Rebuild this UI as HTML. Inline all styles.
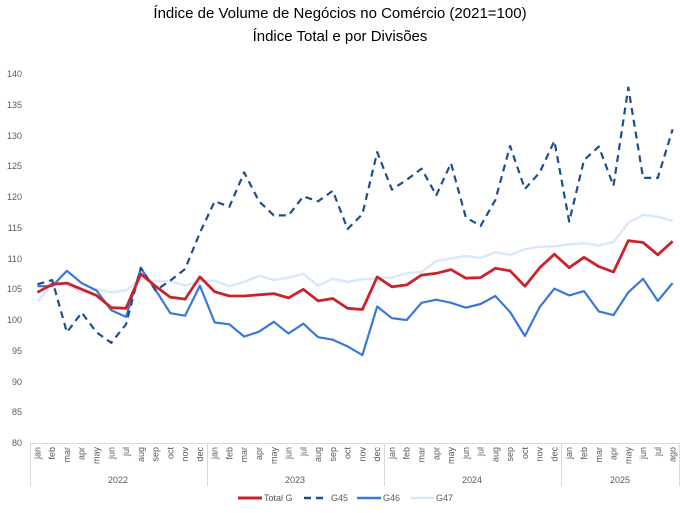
<!DOCTYPE html>
<html><head><meta charset="utf-8"><style>
body{margin:0;background:#fff;width:680px;height:508px;overflow:hidden;font-family:"Liberation Sans",sans-serif}
</style></head><body>
<svg id="s" width="680" height="508" xmlns="http://www.w3.org/2000/svg" font-family="Liberation Sans, sans-serif">
<text x="340" y="18" text-anchor="middle" font-size="15" fill="#000">Índice de Volume de Negócios no Comércio (2021=100)</text>
<text x="340" y="41" text-anchor="middle" font-size="15" fill="#000">Índice Total e por Divisões</text>
<g font-size="9" fill="#595959" text-anchor="end">
<text x="22" y="77">140</text><text x="22" y="108">135</text><text x="22" y="139">130</text><text x="22" y="169">125</text><text x="22" y="200">120</text><text x="22" y="231">115</text><text x="22" y="262">110</text><text x="22" y="292">105</text><text x="22" y="323">100</text><text x="22" y="354">95</text><text x="22" y="385">90</text><text x="22" y="415">85</text><text x="22" y="446">80</text>
</g>
<g stroke="#d9d9d9" stroke-width="1">
<line x1="30" y1="443.5" x2="680" y2="443.5"/>
<line x1="30.5" y1="443" x2="30.5" y2="486"/><line x1="207.5" y1="443" x2="207.5" y2="486"/><line x1="384.5" y1="443" x2="384.5" y2="486"/><line x1="561.5" y1="443" x2="561.5" y2="486"/><line x1="679.5" y1="443" x2="679.5" y2="486"/>
</g>
<g id="months" font-size="9" fill="#595959"></g>
<g font-size="9" fill="#595959" text-anchor="middle">
<text x="118" y="483">2022</text><text x="295" y="483">2023</text><text x="472" y="483">2024</text><text x="620" y="483">2025</text>
</g>
<g id="lines"></g>
<g font-size="9" fill="#595959">
<line x1="238" y1="498" x2="262" y2="498" stroke="#c9242b" stroke-width="3"/><text x="264" y="501">Total G</text>
<line x1="304" y1="498" x2="328" y2="498" stroke="#1f4e8c" stroke-width="2.5" stroke-dasharray="7,5"/><text x="331" y="501">G45</text>
<line x1="357" y1="498" x2="381" y2="498" stroke="#3a78d8" stroke-width="2.5"/><text x="383" y="501">G46</text>
<line x1="410" y1="498" x2="434" y2="498" stroke="#dbe8f8" stroke-width="2.5"/><text x="436" y="501">G47</text>
</g>
</svg>
<script>
var m=["jan","feb","mar","apr","may","jun","jul","aug","sep","oct","nov","dec"];
var labs=[];for(var y=0;y<3;y++)labs=labs.concat(m);labs=labs.concat(["jan","feb","mar","apr","may","jun","jul","ago"]);
var W=650/44;function X(i){return 30+W*(i+0.5)}function Y(v){return 443-(v-80)*6.15}
var g=document.getElementById("months"),ns="http://www.w3.org/2000/svg";
labs.forEach(function(l,i){var t=document.createElementNS(ns,"text");var x=X(i)+3;t.setAttribute("transform","translate("+x+",447) rotate(-90)");t.setAttribute("text-anchor","end");t.textContent=l;g.appendChild(t)});
var d={
g47:[103,105.8,105.8,104.4,105,104.5,104.8,106.8,106.3,106.3,105.6,106.3,106.4,105.5,106.2,107.2,106.5,106.9,107.5,105.6,106.7,106.2,106.6,106.8,106.9,107.6,107.8,109.6,110,110.4,110.1,111,110.6,111.5,111.9,112,112.3,112.5,112.1,112.7,115.8,117.1,116.8,116.1],
g46:[105.5,105.5,108,106,104.8,101.6,100.5,108.4,104.9,101.1,100.7,105.6,99.6,99.3,97.3,98.1,99.7,97.8,99.4,97.2,96.8,95.7,94.3,102.2,100.3,100,102.8,103.3,102.8,102,102.6,103.9,101.3,97.4,102.1,105.1,104,104.7,101.4,100.8,104.5,106.7,103.1,106],
g45:[105.8,106.5,98,101.2,98,96.3,99.3,108.5,104.8,106.4,108.3,114.2,119.3,118.4,124,119.3,117,117,120.1,119.3,121,114.8,117.2,127.3,121.2,122.8,124.6,120.3,125.5,116.7,115.3,119.5,128.3,121.3,124,129.1,116,126,128.2,121.8,137.8,123.1,123.1,131],
tot:[104.5,105.8,106,105,104,102,101.9,107.5,105.5,103.7,103.4,107,104.6,103.9,103.9,104.1,104.3,103.6,105,103.1,103.5,101.9,101.7,107,105.4,105.7,107.3,107.6,108.2,106.8,106.9,108.4,108,105.5,108.5,110.7,108.5,110.2,108.7,107.8,112.9,112.6,110.6,112.8]};
var st={g47:["#dbe8f8",2.5,""],g46:["#3a78d8",2.2,""],g45:["#1f4e8c",2.2,"7,5"],tot:["#c9242b",2.8,""]};
var L=document.getElementById("lines");
["g47","g46","g45","tot"].forEach(function(k){var p=document.createElementNS(ns,"polyline");p.setAttribute("points",d[k].map(function(v,i){return X(i).toFixed(1)+","+Y(v).toFixed(1)}).join(" "));p.setAttribute("fill","none");p.setAttribute("stroke",st[k][0]);p.setAttribute("stroke-width",st[k][1]);p.setAttribute("stroke-linejoin","round");if(st[k][2])p.setAttribute("stroke-dasharray",st[k][2]);L.appendChild(p)});
</script>
</body></html>
